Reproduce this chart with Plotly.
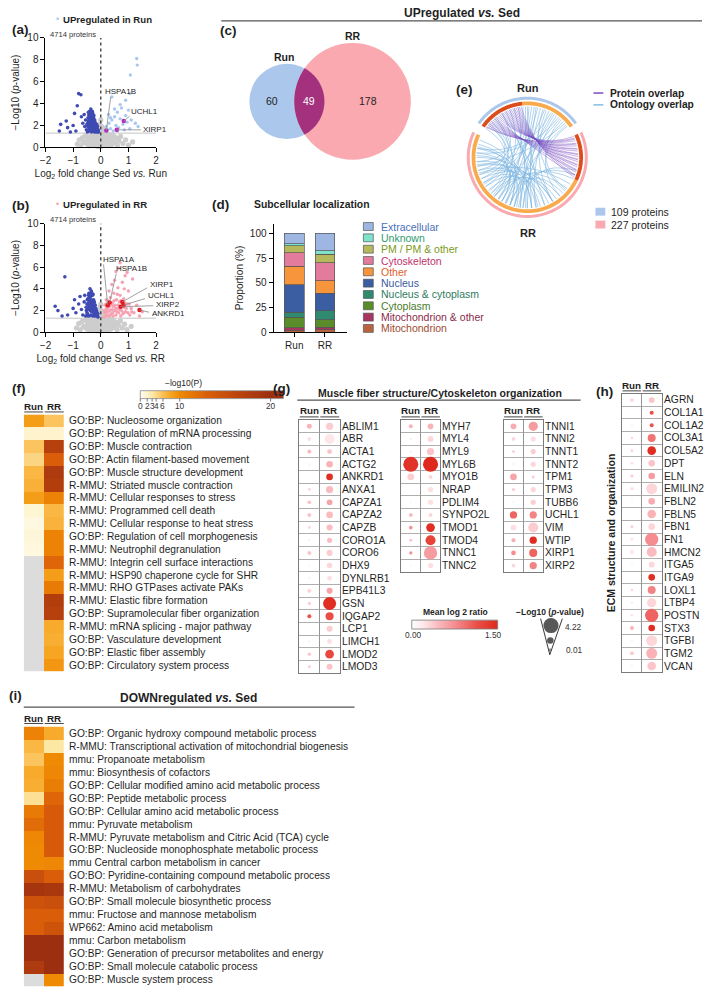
import numpy as np
import plotly.graph_objects as go

W, H = 709, 996
FONT = "Liberation Sans, Arial, Helvetica, sans-serif"
TXT = "#1f1f1f"

# ======================= DATA =======================
# (a) volcano Sed vs Run
a_gray_x = [-0.85,-0.78,-0.72,-0.66,-0.6,-0.55,-0.5,-0.46,-0.42,-0.38,-0.34,-0.3,-0.27,-0.24,-0.21,-0.18,-0.15,-0.12,-0.09,-0.06,
            -0.03,0.0,0.03,0.06,0.09,0.12,0.15,0.18,0.21,0.24,0.27,0.3,0.34,0.38,0.42,0.46,0.5,0.55,0.6,0.66,0.72,0.8,0.9,1.0,1.15,
            -0.5,-0.4,-0.32,-0.25,-0.18,-0.1,-0.05,0.05,0.1,0.18,0.25,0.32,0.4,0.5,-0.62,0.62,-0.2,0.2,-0.35,0.35,
            -0.08,0.08,-0.04,0.04,0.0,-0.02,0.02,0.06,-0.06,0.01]
a_gray_y = [0.3,0.7,0.2,0.9,0.5,1.1,0.3,0.8,0.15,1.0,0.5,1.2,0.2,0.7,1.1,0.4,0.9,0.1,1.2,0.6,
            0.3,0.05,0.4,0.8,1.1,0.2,0.6,1.0,0.3,0.8,1.2,0.5,0.9,0.25,0.7,1.05,0.4,0.9,0.2,0.6,1.0,0.35,0.7,0.2,0.5,
            0.6,0.45,0.3,0.95,0.25,0.75,0.5,0.35,0.55,0.85,0.15,0.65,1.15,0.85,0.45,0.75,0.4,0.45,0.55,0.3,
            1.5,1.7,2.1,1.9,2.5,1.4,1.6,1.3,1.45,1.0]
a_down_x = [-0.48,-0.47,-0.45,-0.44,-0.42,-0.41,-0.40,-0.39,-0.38,-0.37,
            -0.36,-0.35,-0.34,-0.33,-0.32,-0.31,-0.30,-0.29,-0.28,-0.27,
            -0.26,-0.25,-0.24,-0.23,-0.22,-0.21,-0.20,-0.19,-0.18,-0.17,
            -0.16,-0.15,-0.14,-0.13,-0.12,-0.11,-0.10,-0.09,-0.08,-0.43,
            -0.39,-0.35,-0.30,-0.25,-0.46,-0.41,-0.37,-0.33,-0.28,-0.22,
            -0.18,-0.36,-0.31,-0.50,-0.52,-0.27,-0.20,-0.15,-0.24,-0.32,
            -0.47,-0.44,-0.42,-0.40,-0.38,-0.35,-0.33,-0.30,-0.28,-0.26,-0.23,-0.21,
            -0.19,-0.17,-0.14,-0.12,-0.45,-0.41,-0.37,-0.34,-0.29,-0.26,-0.21,-0.16,
            -1.50,-1.45,-1.25,-1.20,-1.00,-0.95,-0.85,-0.80,-0.72,-0.70,-0.65,-0.60,-0.58,-0.55,-0.90,-1.10]
a_down_y = [1.4,1.9,2.4,1.6,2.9,2.1,3.3,1.5,2.6,1.9,
            3.0,2.3,1.4,2.8,1.7,2.5,2.0,3.1,1.5,2.3,
            2.7,1.8,2.1,1.4,2.5,1.9,2.2,1.6,2.0,1.4,
            1.8,2.1,1.5,1.7,1.9,1.4,1.6,1.5,1.4,3.0,
            2.8,1.6,2.7,2.9,2.7,1.8,2.2,2.0,2.1,1.7,
            1.5,3.5,3.3,2.1,1.6,1.6,1.5,1.6,2.5,2.4,
            2.2,2.0,2.5,2.3,3.1,2.6,2.4,2.3,2.8,2.0,2.0,2.3,
            1.8,1.7,1.8,1.6,3.2,2.5,2.9,3.2,1.8,2.2,2.1,1.5,
            1.5,2.1,2.4,1.8,2.0,3.1,3.8,4.9,4.8,2.8,2.2,3.0,1.9,2.5,1.5,1.4]
a_up_x = [0.15,0.20,0.25,0.30,0.35,0.40,0.45,0.50,0.55,0.60,0.65,0.70,0.75,0.80,0.85,0.90,0.95,1.00,1.05,1.10,
          1.07,1.32,1.25,1.30,1.35,0.50,0.70,0.60,0.35,0.28,0.90,0.40,1.05]
a_up_y = [1.5,1.9,1.6,2.2,1.7,2.5,1.5,2.8,2.0,3.2,1.8,2.6,3.6,2.1,1.6,2.9,2.3,3.4,1.7,2.5,
          6.6,7.5,2.2,8.1,1.9,3.5,3.9,1.5,2.7,3.0,4.3,4.6,4.9]
a_hl_names = ["HSPA1B", "UCHL1", "XIRP1"]
a_hl_x = [0.20, 0.83, 0.58]
a_hl_y = [1.55, 2.40, 1.60]
a_lab_x = [0.11, 1.07, 1.50]      # left edge of label text
a_lab_y = [5.05, 3.25, 1.62]
a_lead_x = [0.36, 1.04, 1.45]     # start of leader line
a_lead_y = [4.60, 2.85, 1.60]

# (b) volcano Sed vs RR
b_gray_x = [-0.88,-0.8,-0.74,-0.68,-0.62,-0.56,-0.52,-0.47,-0.43,-0.39,-0.35,-0.31,-0.28,-0.25,-0.22,-0.19,-0.16,-0.13,-0.1,-0.07,
            -0.04,-0.01,0.02,0.05,0.08,0.11,0.14,0.17,0.2,0.23,0.26,0.29,0.33,0.37,0.41,0.45,0.49,0.54,0.59,0.65,0.71,0.78,0.86,0.95,1.1,
            -0.48,-0.41,-0.33,-0.26,-0.19,-0.11,-0.06,0.04,0.09,0.16,0.24,0.31,0.39,0.48,-0.6,0.6,-0.21,0.21,-0.36,0.36,
            -0.07,0.07,-0.03,0.03,0.0,-0.01,0.01,0.05,-0.05,0.1]
b_gray_y = [0.4,0.8,0.25,1.0,0.55,1.15,0.35,0.85,0.2,1.05,0.55,1.25,0.25,0.75,1.15,0.45,0.95,0.15,1.2,0.65,
            0.35,0.1,0.45,0.85,1.15,0.25,0.65,1.05,0.35,0.85,1.2,0.55,0.95,0.3,0.75,1.1,0.45,0.95,0.25,0.65,1.05,0.4,0.75,0.25,0.55,
            0.65,0.5,0.35,1.0,0.3,0.8,0.55,0.4,0.6,0.9,0.2,0.7,1.2,0.9,0.5,0.8,0.45,0.5,0.6,0.35,
            1.6,1.8,2.3,2.0,2.6,1.5,1.7,1.4,1.55,1.1]
b_down_x = [-0.55,-0.52,-0.50,-0.48,-0.46,-0.45,-0.43,-0.42,-0.40,-0.39,
            -0.38,-0.37,-0.36,-0.35,-0.34,-0.33,-0.32,-0.31,-0.30,-0.29,
            -0.28,-0.27,-0.26,-0.25,-0.24,-0.23,-0.22,-0.21,-0.20,-0.19,
            -0.18,-0.17,-0.16,-0.15,-0.14,-0.13,-0.12,-0.11,-0.10,-0.44,
            -0.41,-0.38,-0.35,-0.30,-0.28,-0.25,-0.20,-0.47,
            -0.53,-0.49,-0.47,-0.44,-0.42,-0.40,-0.37,-0.35,-0.33,-0.31,-0.29,-0.27,
            -0.25,-0.23,-0.21,-0.18,-0.16,-0.14,-0.12,-0.50,-0.45,-0.39,-0.36,-0.32,
            -1.65,-1.55,-1.30,-1.20,-1.00,-0.90,-0.80,-0.75,-0.70,-0.65,-0.60,-0.58,-0.95,-1.40]
b_down_y = [1.5,2.0,2.6,1.7,3.1,2.2,3.6,1.5,2.8,4.0,
            2.0,3.3,1.6,2.5,3.8,1.9,2.9,2.3,3.4,1.5,
            2.7,2.0,3.0,1.7,2.4,2.8,1.5,2.1,2.5,1.8,
            2.2,1.5,1.9,2.0,1.6,1.8,1.5,1.7,1.4,2.5,
            3.2,2.4,2.0,2.6,3.5,2.6,1.6,1.5,
            2.3,3.0,2.1,3.4,2.9,3.3,2.6,3.0,2.4,2.8,2.2,2.5,
            2.2,2.0,1.8,1.8,1.6,1.8,1.7,1.8,2.7,3.6,2.2,3.6,
            2.4,2.0,5.1,1.6,2.2,1.8,2.6,3.3,2.1,1.6,2.8,3.4,3.0,1.5]
b_up_x = [0.12,0.15,0.18,0.20,0.22,0.25,0.27,0.30,0.32,0.35,
          0.37,0.40,0.42,0.45,0.47,0.50,0.52,0.55,0.57,0.60,
          0.62,0.65,0.67,0.70,0.72,0.75,0.78,0.80,0.83,0.85,
          0.88,0.90,0.95,1.00,1.05,1.10,1.15,1.20,1.30,1.40,
          1.50,0.40,0.55,0.70,0.30,0.45,0.60,0.25,0.35,0.50,
          0.65,0.85,0.95,0.20,0.15,
          0.14,0.19,0.23,0.28,0.33,0.38,0.43,0.48,0.53,0.58,
          0.63,0.68,0.73,0.77,0.82,0.87,0.92,0.98,1.03,1.12]
b_up_y = [1.4,1.8,1.5,2.2,1.6,2.9,1.9,1.5,2.4,3.2,
          1.7,2.1,2.7,1.5,3.6,2.0,2.5,1.6,3.0,2.2,
          4.1,1.8,2.8,3.4,1.5,2.0,4.6,1.7,3.1,2.3,
          5.2,1.9,2.6,3.8,1.6,2.2,4.9,1.8,2.5,1.5,
          1.9,4.4,5.6,6.4,3.8,2.4,3.5,2.0,1.6,4.8,
          5.9,4.0,5.5,3.0,2.5,
          2.0,2.6,1.9,2.3,2.0,2.6,1.8,2.9,2.2,1.9,
          2.5,2.1,2.9,2.4,1.8,2.7,2.2,1.8,2.6,1.9]
b_hl_names = ["HSPA1A", "HSPA1B", "XIRP1", "UCHL1", "XIRP2", "ANKRD1"]
b_hl_x = [0.25, 0.32, 0.78, 0.82, 0.72, 1.40]
b_hl_y = [2.50, 2.75, 2.80, 2.50, 2.35, 2.05]
b_lab_x = [0.04, 0.50, 1.75, 1.68, 1.96, 1.82]
b_lab_y = [6.70, 5.85, 4.36, 3.36, 2.57, 1.75]
b_lead_x = [0.10, 0.56, 1.68, 1.60, 1.90, 1.75]
b_lead_y = [6.25, 5.40, 4.10, 3.10, 2.45, 1.85]

# (c) Venn counts
venn_run_only = 60
venn_both = 49
venn_rr_only = 178

# (d) subcellular localization (%), legend order (top -> bottom)
loc_names = ["Extracellular", "Unknown", "PM / PM & other", "Cytoskeleton", "Other", "Nucleus",
             "Nucleus & cytoplasm", "Cytoplasm", "Mitochondrion & other", "Mitochondrion"]
loc_run = [10.3, 2.0, 7.0, 14.0, 18.4, 28.0, 5.0, 10.8, 2.5, 2.0]
loc_rr = [17.7, 3.3, 8.5, 18.5, 12.7, 17.6, 9.0, 7.4, 2.5, 2.8]
bar_groups = ["Run", "RR"]

# (e) chord diagram
chord_n_run = 109
chord_n_rr = 227
chord_n_shared = 49
chord_prot_run = [97,99,101,103,105,107,109,111,113,115,117,119,121,123,125,127,129,131,133,135,137,139,141,143,144]
chord_prot_rr = [-23,-20,-17,-14,-11,-8,-5,-2,1,4,7,10,13,16,19,22,-21,-15,-9,-3,3,9,15,21,24]
chord_onto_a = [40,45,50,55,60,65,70,75,80,85,90,95,100,110,120,130,140,145,38,48,58,68,78,88,42,52,62,
                165,170,175,180,185,190,195,200,205,210,215,220,168,178,188,198,225,235,245,255,265,
                120,105,135,115,72,82,92,128,138,160,230,250]
chord_onto_b = [250,265,230,280,240,300,215,260,275,235,290,205,245,225,195,210,185,200,310,320,255,270,228,212,190,175,170,
                262,280,250,295,240,300,268,285,310,255,275,322,230,240,258,328,300,335,290,340,345,
                300,270,250,282,318,244,262,236,222,275,305,315]

# (f) enrichment, UP regulated (-log10 P)
f_terms = ["GO:BP: Nucleosome organization", "GO:BP: Regulation of mRNA processing", "GO:BP: Muscle contraction",
           "GO:BP: Actin filament-based movement", "GO:BP: Muscle structure development",
           "R-MMU: Striated muscle contraction", "R-MMU: Cellular responses to stress",
           "R-MMU: Programmed cell death", "R-MMU: Cellular response to heat stress",
           "GO:BP: Regulation of cell morphogenesis", "R-MMU: Neutrophil degranulation",
           "R-MMU: Integrin cell surface interactions", "R-MMU: HSP90 chaperone cycle for SHR",
           "R-MMU: RHO GTPases activate PAKs", "R-MMU: Elastic fibre formation",
           "GO:BP: Supramolecular fiber organization", "R-MMU: mRNA splicing - major pathway",
           "GO:BP: Vasculature development", "GO:BP: Elastic fiber assembly", "GO:BP: Circulatory system process"]
f_run = [8.5, 1.8, 5.5, 4.2, 6.5, 7.0, 8.5, 1.5, 0.8, 1.2, 0.9, None, None, None, None, None, None, None, None, None]
f_rr = [5.5, 1.8, 17.0, 13.0, 18.0, 17.5, 10.5, 6.5, 6.8, 10.5, 10.5, 12.5, 8.5, 11.0, 17.5, 17.0, 7.5, 7.2, 7.8, 9.0]
cb_p_ticks = [0, 2, 3, 4, 6, 10, 20]

# (g) muscle fiber structure / cytoskeleton organization
g1_genes = ["ABLIM1","ABR","ACTA1","ACTG2","ANKRD1","ANXA1","CAPZA1","CAPZA2","CAPZB","CORO1A","CORO6","DHX9",
            "DYNLRB1","EPB41L3","GSN","IQGAP2","LCP1","LIMCH1","LMOD2","LMOD3"]
g1_run_r = [0.5,0.25,0.45,0.1,None,0.3,0.4,0.4,0.3,0.1,0.4,0.1,0.1,0.3,0.4,1.1,None,0.1,0.4,0.35]
g1_run_p = [0.95,0.6,0.65,0.2,None,0.3,0.55,0.65,0.3,0.1,0.65,0.1,0.1,0.75,0.3,0.65,None,0.1,0.45,0.3]
g1_rr_r = [0.35,0.2,0.4,0.5,1.45,0.45,0.6,0.45,0.45,0.45,0.35,0.3,0.25,0.6,1.45,1.15,0.35,0.25,1.2,0.4]
g1_rr_p = [1.7,2.6,0.95,1.5,1.5,1.7,1.2,1.5,1.3,1.0,1.3,1.1,0.9,1.3,3.55,1.95,1.3,0.9,2.15,1.3]
g2_genes = ["MYH7","MYL4","MYL9","MYL6B","MYO1B","NRAP","PDLIM4","SYNPO2L","TMOD1","TMOD4","TNNC1","TNNC2"]
g2_run_r = [0.5,0.15,0.15,1.4,0.35,None,0.1,0.45,0.7,0.4,0.75,0.1]
g2_run_p = [0.65,0.1,0.1,4.2,1.5,None,0.05,0.65,0.55,0.3,0.4,0.05]
g2_rr_r = [0.5,0.3,0.4,1.5,0.3,0.25,0.25,0.3,1.45,1.25,0.65,0.25]
g2_rr_p = [1.2,1.2,1.7,4.22,0.65,1.0,1.0,0.65,2.15,2.6,3.65,1.0]
g3_genes = ["TNNI1","TNNI2","TNNT1","TNNT2","TPM1","TPM3","TUBB6","UCHL1","VIM","WTIP","XIRP1","XIRP2"]
g3_run_r = [0.55,0.3,0.35,0.15,0.6,0.35,0.1,1.0,0.25,0.55,0.75,0.3]
g3_run_p = [1.2,0.55,0.3,0.1,1.5,0.4,0.1,1.7,1.2,0.65,0.85,0.55]
g3_rr_r = [0.65,0.25,0.35,0.3,0.35,0.3,0.35,0.8,0.35,1.45,1.0,0.8]
g3_rr_p = [2.35,1.0,1.0,1.0,0.3,1.0,1.0,1.7,2.6,1.7,1.95,1.7]
# (h) ECM structure and organization
h_genes = ["AGRN","COL1A1","COL1A2","COL3A1","COL5A2","DPT","ELN","EMILIN2","FBLN2","FBLN5","FBN1","FN1",
           "HMCN2","ITGA5","ITGA9","LOXL1","LTBP4","POSTN","STX3","TGFBI","TGM2","VCAN"]
h_run_r = [0.3,0.05,0.1,0.3,0.35,0.25,0.35,0.25,0.1,0.05,0.3,0.2,0.2,0.1,None,0.3,0.15,0.25,0.5,0.1,0.35,0.1]
h_run_p = [0.55,0.05,0.1,0.15,0.15,0.2,0.4,0.4,0.1,0.05,0.4,0.4,0.65,0.1,None,0.15,0.15,0.15,0.65,0.1,0.65,0.1]
h_rr_r = [0.4,1.15,1.1,0.9,1.45,0.4,0.65,0.3,0.55,0.5,0.3,0.75,0.45,0.3,1.45,0.8,0.3,1.0,1.45,0.3,0.5,0.4]
h_rr_p = [1.2,0.65,0.65,1.95,2.15,1.5,1.5,2.9,1.5,2.15,1.5,3.65,2.6,1.2,1.5,1.95,2.35,3.65,1.5,2.9,2.9,2.15]
ratio_range = [0.0, 1.5]
size_legend_vals = [4.22, 1.45, 0.01]

# (i) enrichment, DOWN regulated
i_terms = ["GO:BP: Organic hydroxy compound metabolic process",
           "R-MMU: Transcriptional activation of mitochondrial biogenesis",
           "mmu: Propanoate metabolism", "mmu: Biosynthesis of cofactors",
           "GO:BP: Cellular modified amino acid metabolic process", "GO:BP: Peptide metabolic process",
           "GO:BP: Cellular amino acid metabolic process", "mmu: Pyruvate metabolism",
           "R-MMU: Pyruvate metabolism and Citric Acid (TCA) cycle",
           "GO:BP: Nucleoside monophosphate metabolic process", "mmu Central carbon metabolism in cancer",
           "GO:BO: Pyridine-containing compound metabolic process", "R-MMU: Metabolism of carbohydrates",
           "GO:BP: Small molecule biosynthetic process", "mmu: Fructose and mannose metabolism",
           "WP662: Amino acid metabolism", "mmu: Carbon metabolism",
           "GO:BP: Generation of precursor metabolites and energy",
           "GO:BP: Small molecule catabolic process", "GO:BP: Muscle system process"]
i_run = [10.5, 6.5, 5.5, 7.5, 7.2, 3.5, 11.0, 12.0, 10.2, 10.0, 10.0, 15.0, 19.0, 14.5, 13.0, 13.0, 20.0, 20.0, 18.0, None]
i_rr = [7.5, 3.0, 10.0, 10.2, 10.8, 12.5, 13.5, 13.5, 13.5, 13.5, 10.2, 13.0, 18.5, 15.0, 13.0, 14.5, 20.0, 20.0, 20.0, 10.0]

# ======================= STYLE =======================
HM_CS = [[0, '#fffcf0'], [0.1, '#fef2c8'], [0.15, '#fde7a4'], [0.2, '#fcd887'], [0.3, '#fbbd50'],
         [0.4, '#f6a31f'], [0.5, '#ef8a05'], [0.65, '#da5e09'], [0.8, '#bf470d'], [1, '#9b2f10']]
DOT_CS = [[0, '#ffffff'], [0.15, '#fde3e5'], [0.3, '#fabbc0'], [0.5, '#f48c90'], [0.75, '#ea5048'], [1, '#de2a1c']]
loc_fill = ['#9db6e2', '#7fe3cc', '#b6b85c', '#e27b9c', '#f6953b', '#3b5ea3', '#2f8a6f', '#5b8c2b', '#a8355f', '#b8643c']
loc_txt = ['#4a70b8', '#2f9a70', '#7a9a20', '#c2336b', '#e0602a', '#3a5aa0', '#2e7a5e', '#4a7a2a', '#8a2a4a', '#a04a30']
PANEL = 13.5


def dot_size(p):
    return 2 + 3.1 * p


fig = go.Figure()
layout = dict(width=W, height=H, margin=dict(l=0, r=0, t=0, b=0), paper_bgcolor='white',
              plot_bgcolor='rgba(0,0,0,0)', showlegend=False, font=dict(family=FONT, size=10, color=TXT))
shapes, annots = [], []


def xd(l, r):
    return [l / W, r / W]


def yd(t, b):
    return [1 - b / H, 1 - t / H]


def T(x, y, text, size=10, color=TXT, bold=False, anchor='left', angle=0, yanchor='middle'):
    if bold:
        text = '<b>' + text + '</b>'
    annots.append(dict(x=x, y=y, xref='x', yref='y', text=text, showarrow=False, xanchor=anchor,
                       yanchor=yanchor, textangle=angle, borderpad=0,
                       font=dict(size=size, color=color, family=FONT)))


def L(x0, y0, x1, y1, color='#444', width=1, dash='solid', xref='x', yref='y', layer='above'):
    shapes.append(dict(type='line', xref=xref, yref=yref, x0=x0, y0=y0, x1=x1, y1=y1, layer=layer,
                       line=dict(color=color, width=width, dash=dash)))


def R(x0, y0, x1, y1, fill, line='#555', lw=0.7):
    shapes.append(dict(type='rect', xref='x', yref='y', x0=x0, y0=y0, x1=x1, y1=y1, fillcolor=fill,
                       line=dict(color=line, width=lw)))


def P(path, color, width, fill=None):
    d = dict(type='path', xref='x', yref='y', path=path, line=dict(color=color, width=width))
    if fill:
        d['fillcolor'] = fill
    shapes.append(d)


def row_labels(n, xpx, labels, size):
    for i, t in enumerate(labels):
        annots.append(dict(x=xpx / W, y=i, xref='paper', yref=f'y{n}', text=t, showarrow=False,
                           xanchor='left', yanchor='middle', borderpad=0,
                           font=dict(size=size, color=TXT, family=FONT)))


# ---- canvas axes (pixel coordinates) ----
layout['xaxis'] = dict(domain=[0, 1], range=[0, W], visible=False, fixedrange=True)
layout['yaxis'] = dict(domain=[0, 1], range=[H, 0], visible=False, fixedrange=True)
fig.add_trace(go.Scatter(x=[0], y=[0], mode='markers', marker=dict(size=1, opacity=0), xaxis='x', yaxis='y',
                         hoverinfo='skip'))

AX = dict(showline=True, linecolor='black', linewidth=1, ticks='outside', ticklen=4, tickwidth=1,
          tickcolor='black', showgrid=False, zeroline=False, tickfont=dict(size=10, color=TXT), fixedrange=True)


# ======================= (a), (b) volcano =======================
def volcano(n, top, bottom, comp, gx, gy, dx, dy, ux, uy, ucol, names, hx, hy, lx, ly, lsx, lsy, hcol):
    layout[f'xaxis{n}'] = dict(AX, domain=xd(40, 152), range=[-2, 2], tickvals=[-2, -1, 0, 1, 2], anchor=f'y{n}',
                               title=dict(text=f'Log<sub>2</sub> fold change Sed <i>vs.</i> {comp}',
                                          font=dict(size=10, color=TXT), standoff=4))
    layout[f'yaxis{n}'] = dict(AX, domain=yd(top, bottom), range=[0, 10], tickvals=[0, 2, 4, 6, 8, 10],
                               anchor=f'x{n}',
                               title=dict(text='−Log10 (<i>p</i>-value)', font=dict(size=10, color=TXT), standoff=5))
    ax = dict(xaxis=f'x{n}', yaxis=f'y{n}', hoverinfo='skip', cliponaxis=False)
    fig.add_trace(go.Scatter(x=gx, y=gy, mode='markers', marker=dict(size=5.2, color='#cdcdcd'), **ax))
    fig.add_trace(go.Scatter(x=dx, y=dy, mode='markers', marker=dict(size=3.6, color='#3f4ab3'), **ax))
    fig.add_trace(go.Scatter(x=ux, y=uy, mode='markers', marker=dict(size=3.4, color=ucol), **ax))
    L(-2, 1.3, 2, 1.3, color='#c4c4c4', width=1, xref=f'x{n}', yref=f'y{n}', layer='below')
    L(0, 0, 0, 10, color='#333', width=1.3, dash='dot', xref=f'x{n}', yref=f'y{n}')
    for nm, x, y, tx, ty, sx, sy in zip(names, hx, hy, lx, ly, lsx, lsy):
        L(sx, sy, x, y, color='#8a8a8a', width=0.8, xref=f'x{n}', yref=f'y{n}')
        annots.append(dict(x=tx, y=ty, xref=f'x{n}', yref=f'y{n}', text=nm, showarrow=False,
                           xanchor='left', yanchor='middle', borderpad=0,
                           font=dict(size=8, color=TXT, family=FONT)))
    fig.add_trace(go.Scatter(x=hx, y=hy, mode='markers', marker=dict(size=4.5, color=hcol), **ax))


volcano(2, 33, 144, 'Run', a_gray_x, a_gray_y, a_down_x, a_down_y, a_up_x, a_up_y, '#a9c8f0',
        a_hl_names, a_hl_x, a_hl_y, a_lab_x, a_lab_y, a_lead_x, a_lead_y, '#b42fb4')
volcano(3, 221, 331, 'RR', b_gray_x, b_gray_y, b_down_x, b_down_y, b_up_x, b_up_y, '#f6a2b2',
        b_hl_names, b_hl_x, b_hl_y, b_lab_x, b_lab_y, b_lead_x, b_lead_y, '#e3191f')

T(15, 25, '(a)', size=PANEL, bold=True, anchor='center')
T(15, 203, '(b)', size=PANEL, bold=True, anchor='center')
T(52, 14.5, '•', size=9, color='#a9c8f0', anchor='center')
T(57, 15, 'UPregulated in Run', size=9.6, bold=True)
T(52, 201.5, '•', size=9, color='#f6a2b2', anchor='center')
T(57, 202, 'UPregulated in RR', size=9.6, bold=True)
T(44, 30, '4714 proteins', size=7.6, color='#333')
T(44, 217, '4714 proteins', size=7.6, color='#333')

# ======================= header UP =======================
T(462, 8, 'UPregulated <i>vs.</i> Sed', size=12, bold=True, anchor='center')
L(218, 16, 705, 16, color='#555', width=1.3)

# ======================= (c) Venn =======================
T(225, 26, '(c)', size=PANEL, bold=True, anchor='center')
n_run_tot = venn_run_only + venn_both
n_rr_tot = venn_rr_only + venn_both
VK = 2.277
r1 = VK * n_run_tot ** 0.6
r2 = VK * n_rr_tot ** 0.6
c1x, c2x, cy = 284.5, 351.0, 97.5
shapes.append(dict(type='circle', xref='x', yref='y', x0=c1x - r1, x1=c1x + r1, y0=cy - r1, y1=cy + r1,
                   fillcolor='#abc7ec', line=dict(width=0)))
shapes.append(dict(type='circle', xref='x', yref='y', x0=c2x - r2, x1=c2x + r2, y0=cy - r2, y1=cy + r2,
                   fillcolor='#f9a9af', line=dict(width=0)))
dd = c2x - c1x
aa = (r1 ** 2 - r2 ** 2 + dd ** 2) / (2 * dd)
ph1 = np.arccos(aa / r1)
ph2 = np.arccos((dd - aa) / r2)
t1 = np.linspace(-ph1, ph1, 40)
t2 = np.linspace(np.pi - ph2, np.pi + ph2, 40)
pts = [(c1x + r1 * np.cos(t), cy + r1 * np.sin(t)) for t in t1] + \
      [(c2x + r2 * np.cos(t), cy + r2 * np.sin(t)) for t in t2]
P('M ' + ' L '.join(f'{x:.2f},{y:.2f}' for x, y in pts) + ' Z', 'rgba(0,0,0,0)', 0, fill='#a3317e')
T(((c1x - r1) + (c2x - r2)) / 2, cy, str(venn_run_only), size=10.5, anchor='center')
T(((c2x - r2) + (c1x + r1)) / 2, cy, str(venn_both), size=10.5, color='white', anchor='center')
T(((c1x + r1) + (c2x + r2)) / 2, cy, str(venn_rr_only), size=10.5, anchor='center')
T(c1x - 3, cy - r1 - 7, 'Run', size=10.5, bold=True, anchor='center')
T(c2x, cy - r2 - 7, 'RR', size=10.5, bold=True, anchor='center')

# ======================= (d) stacked bars =======================
T(217, 202, '(d)', size=PANEL, bold=True, anchor='center')
T(250, 202, 'Subcellular localization', size=10.4, bold=True)
layout['xaxis4'] = dict(AX, domain=xd(271, 345), range=[-0.677, 1.71], tickvals=[0, 1], ticktext=bar_groups,
                        anchor='y4')
layout['yaxis4'] = dict(AX, domain=yd(221, 331), range=[0, 110], tickvals=[0, 25, 50, 75, 100], anchor='x4',
                        title=dict(text='Proportion (%)', font=dict(size=10, color=TXT), standoff=4))
for k in range(len(loc_names) - 1, -1, -1):
    fig.add_trace(go.Bar(x=[0, 1], y=[loc_run[k], loc_rr[k]], width=0.645, xaxis='x4', yaxis='y4',
                         marker=dict(color=loc_fill[k], line=dict(color='#555', width=0.7)), hoverinfo='skip'))
layout['barmode'] = 'stack'
for k, nm in enumerate(loc_names):
    yy = 224 + k * 11.45
    R(362, yy - 4, 372, yy + 4, loc_fill[k], line='#555', lw=0.7)
    T(379, yy, nm, size=10.5, color=loc_txt[k])

# ======================= (e) chord =======================
T(464, 85, '(e)', size=PANEL, bold=True, anchor='center')
CX, CY = 528.0, 154.0
GAP = 10.0
kdeg = (360 - 2 * GAP) / (chord_n_run + chord_n_rr)
run_start = 90 + chord_n_run * kdeg / 2
run_end = 90 - chord_n_run * kdeg / 2
run_sh = run_start - chord_n_shared * kdeg
rr_start = run_start + GAP
rr_end = rr_start + chord_n_rr * kdeg
rr_sh = rr_end - chord_n_shared * kdeg


def cpt(r, a):
    t = np.radians(a)
    return CX + r * np.cos(t), CY - r * np.sin(t)


def arc(r, a0, a1, color, width):
    aa_ = np.linspace(a0, a1, 80)
    p = [cpt(r, a) for a in aa_]
    P('M ' + ' L '.join(f'{x:.2f},{y:.2f}' for x, y in p), color, width)


RC = 51.5
for a1_, a2_ in zip(chord_onto_a, chord_onto_b):
    x1, y1 = cpt(RC, a1_)
    x2, y2 = cpt(RC, a2_)
    P(f'M {x1:.2f},{y1:.2f} Q {CX:.2f},{CY:.2f} {x2:.2f},{y2:.2f}', 'rgba(125,182,224,0.65)', 0.9)
for a1_, a2_ in zip(chord_prot_run, chord_prot_rr):
    x1, y1 = cpt(RC, a1_)
    x2, y2 = cpt(RC, a2_)
    P(f'M {x1:.2f},{y1:.2f} Q {CX + 6:.2f},{CY - 8:.2f} {x2:.2f},{y2:.2f}', 'rgba(120,70,190,0.45)', 0.9)
arc(54.5, run_end, run_sh, '#f9aa4c', 3.8)
arc(54.5, run_sh, run_start, '#dd4d1b', 3.8)
arc(54.5, rr_start, rr_sh, '#f9aa4c', 3.8)
arc(54.5, rr_sh, rr_end, '#dd4d1b', 3.8)
arc(59.8, run_end, run_start, '#abc7ec', 3.0)
arc(59.8, rr_start, rr_end, '#f9a9af', 3.0)
T(CX + 1, 84, 'Run', size=11, bold=True, anchor='center')
T(CX + 1, 231, 'RR', size=11, bold=True, anchor='center')
L(595, 89, 605, 89, color='#7b4cc0', width=1.5)
T(611, 89, 'Protein overlap', size=10.2, bold=True, color='#222')
L(595, 101, 605, 101, color='#86bde3', width=1.5)
T(611, 101, 'Ontology overlap', size=10.2, bold=True, color='#222')
R(597, 205, 607, 213, '#abc7ec', line='#abc7ec', lw=0)
T(612, 209, f'{chord_n_run} proteins', size=10.5)
R(597, 218, 607, 226, '#f9a9af', line='#f9a9af', lw=0)
T(612, 222, f'{chord_n_rr} proteins', size=10.5)


# ======================= heatmaps (f), (i) =======================
def heat(n, top, bottom, terms, run, rr):
    nrow = len(terms)
    layout[f'xaxis{n}'] = dict(domain=xd(18, 59), range=[-0.5, 1.5], visible=False, fixedrange=True,
                               anchor=f'y{n}')
    layout[f'yaxis{n}'] = dict(domain=yd(top, bottom), range=[nrow - 0.5, -0.5], anchor=f'x{n}',
                               showticklabels=False, ticks='', showline=False,
                               showgrid=False, zeroline=False, fixedrange=True)
    zna = [[1 if v is None else None for v in (a, b)] for a, b in zip(run, rr)]
    z = [[(np.nan if v is None else v) for v in (a, b)] for a, b in zip(run, rr)]
    fig.add_trace(go.Heatmap(x=[0, 1], y=list(range(nrow)), z=zna, colorscale=[[0, '#dcdcdc'], [1, '#dcdcdc']],
                             showscale=False, xaxis=f'x{n}', yaxis=f'y{n}', hoverinfo='skip'))
    fig.add_trace(go.Heatmap(x=[0, 1], y=list(range(nrow)), z=z, colorscale=HM_CS, zmin=0, zmax=20,
                             showscale=False, xaxis=f'x{n}', yaxis=f'y{n}', hoverinfo='skip'))
    row_labels(n, 62.5, terms, 10.2)


def header(xl, xm, xr, ytext, yline):
    T((xl + xm) / 2, ytext, 'Run', size=9.8, bold=True, anchor='center')
    T((xm + xr) / 2, ytext, 'RR', size=9.8, bold=True, anchor='center')
    L(xl + 0.5, yline, xm - 0.8, yline, color='#444', width=1)
    L(xm + 0.8, yline, xr - 0.5, yline, color='#444', width=1)


T(13, 388, '(f)', size=PANEL, bold=True, anchor='center')
heat(5, 414, 674, f_terms, f_run, f_rr)
header(18, 38.5, 59, 406, 411.5)

# colorbar for (f)
cbf_pos = [136, 143, 148, 152, 159, 176, 268]
layout['xaxis6'] = dict(domain=xd(136, 281), range=[136, 281], visible=False, fixedrange=True, anchor='y6')
layout['yaxis6'] = dict(domain=yd(390, 398), range=[0, 1], visible=False, fixedrange=True, anchor='x6')
cb_x = [120] + cbf_pos + [300]
cb_z = [cb_p_ticks[0]] + cb_p_ticks + [cb_p_ticks[-1]]
fig.add_trace(go.Heatmap(x=cb_x, y=[-1, 2], z=[cb_z, cb_z], zsmooth='best', colorscale=HM_CS, zmin=0, zmax=20,
                         showscale=False, xaxis='x6', yaxis='y6', hoverinfo='skip'))
R(136, 390, 281, 398, 'rgba(0,0,0,0)', line='#888', lw=0.8)
for p_, v_ in zip(cbf_pos, cb_p_ticks):
    L(p_, 398, p_, 401, color='#555', width=0.8)
    T(p_, 405.5, str(v_), size=8.3, anchor='center', color='#333')
T(180, 382, '−log10(P)', size=8.5, anchor='center', color='#222')

T(10, 698, '(i)', size=PANEL, bold=True, anchor='center')
T(185, 701, 'DOWNregulated <i>vs.</i> Sed', size=12, bold=True, anchor='center')
L(18, 710, 353, 710, color='#555', width=1.3)
heat(12, 729.6, 992.4, i_terms, i_run, i_rr)
header(18, 38.5, 59, 721, 726.5)


# ======================= dot plots (g), (h) =======================
def dots(n, l, r, top, genes, run_r, run_p, rr_r, rr_p, pitch=12.8):
    nrow = len(genes)
    bottom = top + nrow * pitch
    layout[f'xaxis{n}'] = dict(domain=xd(l, r), range=[-0.5, 1.5], tickvals=[0, 1], showticklabels=False,
                               ticks='', showline=True, mirror=True, linecolor='#7a7a7a', linewidth=1,
                               showgrid=False, zeroline=False, anchor=f'y{n}', fixedrange=True,
                               minor=dict(tickvals=[0.5], showgrid=True, gridcolor='#8a8a8a', gridwidth=0.9,
                                          ticks=''))
    layout[f'yaxis{n}'] = dict(domain=yd(top, bottom), range=[nrow - 0.5, -0.5],
                               tickvals=list(range(nrow)), showticklabels=False, ticks='', showline=True,
                               mirror=True, linecolor='#7a7a7a', linewidth=1, showgrid=False, zeroline=False,
                               anchor=f'x{n}', fixedrange=True,
                               minor=dict(tickvals=[i + 0.5 for i in range(nrow - 1)], showgrid=True,
                                          gridcolor='#9a9a9a', gridwidth=0.8, ticks=''))
    for col, rv, pv in ((0, run_r, run_p), (1, rr_r, rr_p)):
        ys = [i for i, v in enumerate(rv) if v is not None]
        fig.add_trace(go.Scatter(x=[col] * len(ys), y=ys, mode='markers', xaxis=f'x{n}', yaxis=f'y{n}',
                                 cliponaxis=False, hoverinfo='skip',
                                 marker=dict(size=[dot_size(pv[i]) for i in ys], color=[rv[i] for i in ys],
                                             colorscale=DOT_CS, cmin=ratio_range[0], cmax=ratio_range[1],
                                             line=dict(width=0), opacity=1)))
    row_labels(n, r + 1, genes, 10.3)


T(279, 388, '(g)', size=PANEL, bold=True, anchor='center')
T(440, 392, 'Muscle fiber structure/Cytoskeleton organization', size=10.5, bold=True, anchor='center')
L(295, 399.5, 582, 399.5, color='#555', width=1.3)
dots(7, 297, 338, 419.6, g1_genes, g1_run_r, g1_run_p, g1_rr_r, g1_rr_p)
header(297, 317.5, 338, 410.5, 416.5)
dots(8, 400, 440, 419.6, g2_genes, g2_run_r, g2_run_p, g2_rr_r, g2_rr_p)
header(400, 420, 440, 410.5, 416.5)
dots(9, 504, 544, 419.6, g3_genes, g3_run_r, g3_run_p, g3_rr_r, g3_rr_p)
header(504, 524, 544, 410.5, 416.5)

T(606, 391, '(h)', size=PANEL, bold=True, anchor='center')
dots(10, 624, 664, 393.0, h_genes, h_run_r, h_run_p, h_rr_r, h_rr_p, pitch=12.81)
header(624, 644, 664, 384.5, 390.2)
T(613, 534, 'ECM structure and organization', size=10.5, bold=True, anchor='center', angle=-90)

# ratio colorbar
layout['xaxis11'] = dict(domain=xd(411, 498), range=[0, 1], visible=False, fixedrange=True, anchor='y11')
layout['yaxis11'] = dict(domain=yd(622, 631), range=[0, 1], visible=False, fixedrange=True, anchor='x11')
fig.add_trace(go.Heatmap(x=[0, 1], y=[-1, 2], z=[ratio_range, ratio_range], zsmooth='best', colorscale=DOT_CS,
                         zmin=ratio_range[0], zmax=ratio_range[1], showscale=False, xaxis='x11', yaxis='y11',
                         hoverinfo='skip'))
R(411, 622, 498, 631, 'rgba(0,0,0,0)', line='#777', lw=0.8)
T(455, 614, 'Mean log 2 ratio', size=8.5, bold=True, anchor='center')
T(413, 637.5, f'{ratio_range[0]:.2f}', size=8.3, anchor='center', color='#333')
T(494, 637.5, f'{ratio_range[1]:.2f}', size=8.3, anchor='center', color='#333')

# size legend
T(551, 614, '−Log10 (<i>p</i>-value)', size=8.5, bold=True, anchor='center')
P('M 541.5,620.5 L 550.8,657 L 563.5,620.5', '#222', 0.9)
fig.add_trace(go.Scatter(x=[552, 551.3, 551], y=[627.5, 642.5, 652], mode='markers', xaxis='x', yaxis='y',
                         hoverinfo='skip', cliponaxis=False,
                         marker=dict(size=[dot_size(v) for v in size_legend_vals], color=['#111', '#111', 'white'],
                                     line=dict(color='#111', width=[0, 0, 0.8]))))
T(565, 629, f'{size_legend_vals[0]:.2f}', size=8.3, color='#333')
T(566, 652, f'{size_legend_vals[2]:.2f}', size=8.3, color='#333')

layout['shapes'] = shapes
layout['annotations'] = annots
fig.update_layout(**layout)
fig.write_html("out.html", config={'displayModeBar': False, 'staticPlot': True},
               post_script="document.body.style.margin='0px';document.body.style.overflow='hidden';")
